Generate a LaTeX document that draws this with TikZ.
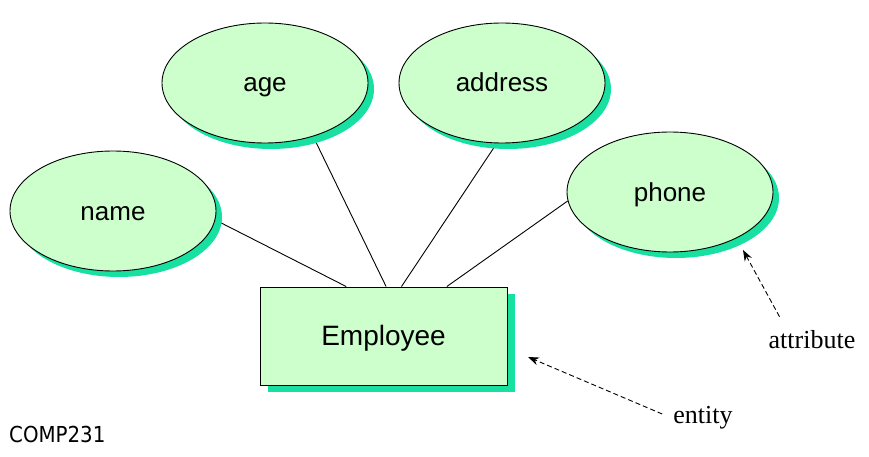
\documentclass[tikz,border=0pt]{standalone}
\usepackage{fontspec}
\setmainfont{Liberation Serif}
\setsansfont{Liberation Sans}
\newfontfamily\compfont{DejaVu Sans Condensed}
\usepackage{tikz}
\usetikzlibrary{backgrounds}
\usetikzlibrary{positioning, shapes, shadows, arrows.meta}
\definecolor{erfill}{RGB}{204,255,204}
\definecolor{ershadow}{RGB}{24,224,160}
\tikzset{attribute/.style={ellipse, draw, line width=0.9pt, fill=erfill, minimum width=206pt, minimum height=120pt, inner sep=0pt, font=\sffamily\fontsize{26}{26}\selectfont, text height=18pt, text depth=0pt, drop shadow={shadow xshift=6pt, shadow yshift=-6pt, fill=ershadow, opacity=1}}}
\tikzset{entity/.style={rectangle, draw, line width=0.9pt, fill=erfill, minimum width=247pt, minimum height=98pt, inner sep=0pt, font=\sffamily\fontsize{28}{28}\selectfont, text height=18pt, text depth=0pt, drop shadow={shadow xshift=8pt, shadow yshift=-7pt, fill=ershadow, opacity=1}}}
\tikzset{link/.style={line width=0.9pt}}
\tikzset{pointer/.style={line width=0.9pt, dash pattern=on 5pt off 3pt, -{Stealth[length=11pt, width=8pt]}}}
\tikzset{note/.style={inner sep=0pt, font=\fontsize{26}{26}\selectfont}}

\begin{document}
\begin{tikzpicture}[x=1pt, y=-1pt]
  \useasboundingbox (0,0) rectangle (869,457);

  \node[entity] (emp) at (383.5,336) {Employee};

  \node[attribute] (name) at (113,211) {name};
  \node[attribute] (age) at (265,83) {age};
  \node[attribute] (address) at (502,83) {address};
  \node[attribute] (phone) at (670,192) {phone};

  \begin{scope}[on background layer]
    \draw[link] (name.-5) -- (emp.127);
    \draw[link] (age.-48) -- (emp.87);
    \draw[link] (address.-95) -- (emp.70);
    \draw[link] (phone.185) -- (emp.38);
  \end{scope}

  \node[note] (attr) at (812,340) {attribute};
  \node[note] (ent) at (703,418) {entity};
  \coordinate (attrtip) at (743,250);
  \coordinate (enttip) at (528,357);
  \draw[pointer] ([shift={(11,-14)}]attr.north west) -- (attrtip);
  \draw[pointer] ([shift={(-11,-4)}]ent.west) -- (enttip);

  \node[anchor=base west, inner sep=0pt, font=\compfont\fontsize{22}{22}\selectfont] (course) at (9,442) {COMP231};
\end{tikzpicture}
\end{document}
